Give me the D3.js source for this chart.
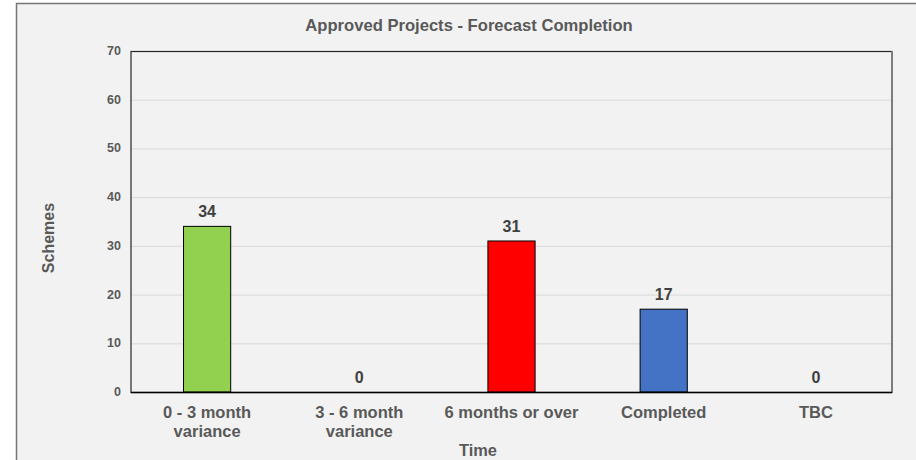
<!DOCTYPE html>
<html>
<head>
<meta charset="utf-8">
<script src="https://cdn.jsdelivr.net/npm/d3@7"></script>
<style>
  body { margin: 0; background: #fff; }
  text { font-family: "Liberation Sans", Arial, sans-serif; font-weight: bold; }
</style>
</head>
<body>
<script>
var categories = [["0 - 3 month", "variance"], ["3 - 6 month", "variance"], ["6 months or over"], ["Completed"], ["TBC"]];
var values = [34, 0, 31, 17, 0];
var bar_colors = ["#92d050", "#92d050", "#ff0000", "#4472c4", "#4472c4"];
var y_ticks = [0, 10, 20, 30, 40, 50, 60, 70];

var width = 916, height = 460;
var plot_left = 131, plot_right = 892, plot_top = 51, plot_bottom = 392;

var svg = d3.select("body").append("svg")
    .attr("width", width).attr("height", height);

// chart background with border
svg.append("rect")
    .attr("x", 16.5).attr("y", 3.5)
    .attr("width", 920).attr("height", 480)
    .attr("fill", "#f2f2f2")
    .attr("stroke", "#767676").attr("stroke-width", 1.5);

var x = d3.scaleBand()
    .domain(d3.range(categories.length))
    .range([plot_left, plot_right]);

var y = d3.scaleLinear()
    .domain([0, 70])
    .range([plot_bottom, plot_top]);

// gridlines
svg.append("g")
  .selectAll("line")
  .data(y_ticks.slice(1, -1))
  .enter().append("line")
    .attr("x1", plot_left).attr("x2", plot_right)
    .attr("y1", d => y(d) + 0.5).attr("y2", d => y(d) + 0.5)
    .attr("stroke", "#d9d9d9");

// plot frame
svg.append("rect")
    .attr("x", plot_left).attr("y", plot_top + 0.5)
    .attr("width", plot_right - plot_left).attr("height", plot_bottom - plot_top)
    .attr("fill", "none")
    .attr("stroke", "#262626").attr("stroke-width", 1.2);
svg.append("line")
    .attr("x1", plot_right).attr("x2", plot_right)
    .attr("y1", plot_top).attr("y2", plot_bottom)
    .attr("stroke", "#7f7f7f").attr("stroke-width", 1.5);

// y axis labels
svg.append("g")
  .selectAll("text")
  .data(y_ticks)
  .enter().append("text")
    .attr("x", 121)
    .attr("y", d => y(d) + 4)
    .attr("text-anchor", "end")
    .attr("font-size", 12.5)
    .attr("fill", "#595959")
    .text(d => d);

// bars
var bar_w = x.bandwidth() * 0.31;
svg.append("g")
  .selectAll("rect")
  .data(values)
  .enter().append("rect")
    .attr("x", (d, i) => x(i) + (x.bandwidth() - bar_w) / 2)
    .attr("y", d => y(d))
    .attr("width", bar_w)
    .attr("height", d => plot_bottom - y(d))
    .attr("fill", (d, i) => bar_colors[i])
    .attr("stroke", "#000")
    .attr("stroke-width", d => d > 0 ? 1 : 0);

// baseline
svg.append("line")
    .attr("x1", plot_left).attr("x2", plot_right)
    .attr("y1", plot_bottom + 0.5).attr("y2", plot_bottom + 0.5)
    .attr("stroke", "#000").attr("stroke-width", 1.5);

// value labels
svg.append("g")
  .selectAll("text")
  .data(values)
  .enter().append("text")
    .attr("x", (d, i) => x(i) + x.bandwidth() / 2)
    .attr("y", d => y(d) - 9)
    .attr("text-anchor", "middle")
    .attr("font-size", 16)
    .attr("fill", "#404040")
    .text(d => d);

// category labels
svg.append("g")
  .selectAll("text")
  .data(categories)
  .enter().append("text")
    .attr("x", (d, i) => x(i) + x.bandwidth() / 2)
    .attr("y", 418)
    .attr("text-anchor", "middle")
    .attr("font-size", 16.5)
    .attr("fill", "#595959")
    .each(function(d) {
        var t = d3.select(this);
        d.forEach(function(line, j) {
            t.append("tspan")
                .attr("x", t.attr("x"))
                .attr("dy", j === 0 ? 0 : 19)
                .text(line);
        });
    });

// title
svg.append("text")
    .attr("x", 469).attr("y", 31)
    .attr("text-anchor", "middle")
    .attr("font-size", 16.6)
    .attr("fill", "#595959")
    .text("Approved Projects - Forecast Completion");

// axis titles
svg.append("text")
    .attr("x", 478).attr("y", 456)
    .attr("text-anchor", "middle")
    .attr("font-size", 16.4)
    .attr("fill", "#595959")
    .text("Time");

svg.append("text")
    .attr("transform", "translate(54,238) rotate(-90)")
    .attr("text-anchor", "middle")
    .attr("font-size", 16)
    .attr("fill", "#595959")
    .text("Schemes");
</script>
</body>
</html>
